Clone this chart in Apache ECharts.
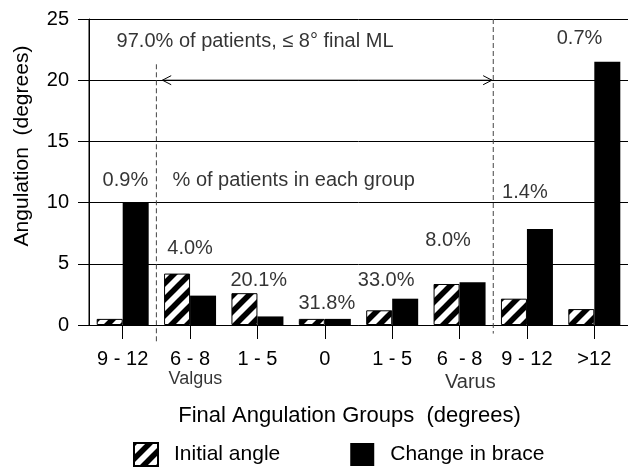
<!DOCTYPE html>
<html><head><meta charset="utf-8">
<script src="https://cdn.jsdelivr.net/npm/echarts@6/dist/echarts.min.js"></script>
<style>html,body{margin:0;padding:0;background:#fff}#c{width:628px;height:469px}</style>
</head><body><div id="c"></div>
<script>
// ---- data ----
const categories = ['9 - 12', '6 - 8', '1 - 5', '0', '1 - 5', '6  - 8', '9 - 12', '>12'];
const initialAngle = [0.5, 4.2, 2.6, 0.5, 1.2, 3.35, 2.15, 1.3];
const changeInBrace = [10.0, 2.4, 0.7, 0.5, 2.15, 3.5, 7.85, 21.5];
const groupPercents = ['0.9%', '4.0%', '20.1%', '31.8%', '33.0%', '8.0%', '1.4%', '0.7%'];
// label anchor in data units: [category index, angulation]
const percentLabelPos = [[0.04, 11.84], [1.0, 6.23], [2.02, 3.6], [3.03, 1.76], [3.91, 3.6], [4.83, 6.9], [5.97, 10.8], [6.78, 23.44]];
const yMin = 0, yMax = 25, yStep = 5;
const seriesNames = ['Initial angle', 'Change in brace'];
const headerText = '97.0% of patients, \u2264 8\u00b0 final ML';
const groupText = '% of patients in each group';
const boundaryLeft = 0.5, boundaryRight = 5.5; // dashed separators (between categories)
const arrowLevel = 20;

const FONT = '"Liberation Sans", Arial, sans-serif';

function hatch() {
  const s = 16;
  const c = document.createElement('canvas');
  c.width = s; c.height = s;
  const g = c.getContext('2d');
  g.fillStyle = '#fff'; g.fillRect(0, 0, s, s);
  g.strokeStyle = '#000'; g.lineWidth = 5.6;
  g.beginPath();
  g.moveTo(-s, 2 * s); g.lineTo(2 * s, -s);
  g.moveTo(-s, s); g.lineTo(s, -s);
  g.moveTo(0, 2 * s); g.lineTo(2 * s, 0);
  g.stroke();
  return c;
}

const chart = echarts.init(document.getElementById('c'), null, {renderer: 'canvas'});
const dashStyle = {color: '#444', width: 1, type: [5, 3]};
const lineBase = {type: 'line', xAxisIndex: 1, symbol: 'none', silent: true, clip: false, animation: false};

chart.setOption({
  animation: false,
  textStyle: {fontFamily: FONT, color: '#000'},
  grid: {left: 89, top: 19, width: 541, height: 306},
  legend: {
    data: seriesNames, left: 128, top: 437, icon: 'rect',
    itemWidth: 24, itemHeight: 23, itemGap: 70,
    textStyle: {fontSize: 21, color: '#000', fontFamily: FONT, padding: [0, 0, 0, 11]}
  },
  xAxis: [{
    type: 'category', data: categories,
    axisLine: {onZero: false, lineStyle: {color: '#000', width: 1}},
    axisTick: {show: true, alignWithLabel: true, length: 14, lineStyle: {color: '#000'}},
    axisLabel: {fontSize: 20, color: '#000', margin: 24, fontFamily: FONT},
    name: 'Final Angulation Groups  (degrees)', nameLocation: 'middle', nameGap: 80,
    nameTextStyle: {fontSize: 22, color: '#000', fontFamily: FONT, padding: [0, 18, 0, 0]}
  }, {
    type: 'value', min: -0.5, max: 7.5, show: false
  }],
  yAxis: {
    type: 'value', min: yMin, max: yMax, interval: yStep, position: 'left',
    axisLine: {show: true, onZero: false, lineStyle: {color: '#000', width: 1}},
    axisTick: {show: true, length: 11, lineStyle: {color: '#000'}},
    splitLine: {show: true, lineStyle: {color: '#000', width: 1}},
    axisLabel: {fontSize: 20, color: '#000', margin: 20, fontFamily: FONT},
    name: 'Angulation  (degrees)', nameLocation: 'middle', nameGap: 56, nameRotate: 90,
    nameTextStyle: {fontSize: 21, color: '#000', fontFamily: FONT, padding: [0, 0, 0, 52]}
  },
  series: [
    {name: seriesNames[0], type: 'bar', data: initialAngle, barWidth: 26, barGap: '0%',
     itemStyle: {color: {image: hatch(), repeat: 'repeat'}, borderColor: '#000', borderWidth: 1}},
    {name: seriesNames[1], type: 'bar', data: changeInBrace, barWidth: 26, barGap: '0%',
     itemStyle: {color: '#000'}},
    // left axis line (explicit, at the start of the category range)
    Object.assign({}, lineBase, {data: [[-0.5, yMin], [-0.5, yMax]], lineStyle: {color: '#000', width: 1}}),
    // dashed separators
    Object.assign({}, lineBase, {data: [[boundaryLeft, 21.3], [boundaryLeft, -1.5]], lineStyle: dashStyle}),
    Object.assign({}, lineBase, {data: [[boundaryRight, 25], [boundaryRight, -0.7]], lineStyle: dashStyle}),
    // double arrow
    Object.assign({}, lineBase, {data: [[0.59, arrowLevel], [5.48, arrowLevel]], lineStyle: {color: '#000', width: 1}}),
    Object.assign({}, lineBase, {data: [[0.72, arrowLevel + 0.37], [0.59, arrowLevel], [0.72, arrowLevel - 0.37]], lineStyle: {color: '#000', width: 1}}),
    Object.assign({}, lineBase, {data: [[5.35, arrowLevel + 0.37], [5.48, arrowLevel], [5.35, arrowLevel - 0.37]], lineStyle: {color: '#000', width: 1}}),
    // percent labels
    {type: 'scatter', xAxisIndex: 1, symbolSize: 0, silent: true, clip: false,
     data: percentLabelPos.map((p, i) => ({value: p, name: groupPercents[i]})),
     label: {show: true, position: 'inside', formatter: '{b}', fontSize: 20, color: '#000', fontFamily: FONT}},
    // header texts
    {type: 'scatter', xAxisIndex: 1, symbolSize: 0, silent: true, clip: false,
     data: [{value: [-0.09, 23.16], name: headerText}, {value: [0.74, 11.84], name: groupText}],
     label: {show: true, position: 'right', distance: 0, formatter: '{b}', fontSize: 20, color: '#000', fontFamily: FONT}},
    // side labels
    {type: 'scatter', xAxisIndex: 1, symbolSize: 0, silent: true, clip: false,
     data: [{value: [1.08, -4.43], name: 'Valgus', label: {fontSize: 18}}, {value: [5.16, -4.67], name: 'Varus'}],
     label: {show: true, position: 'inside', formatter: '{b}', fontSize: 20, color: '#000', fontFamily: FONT}}
  ]
});
</script>
</body></html>
